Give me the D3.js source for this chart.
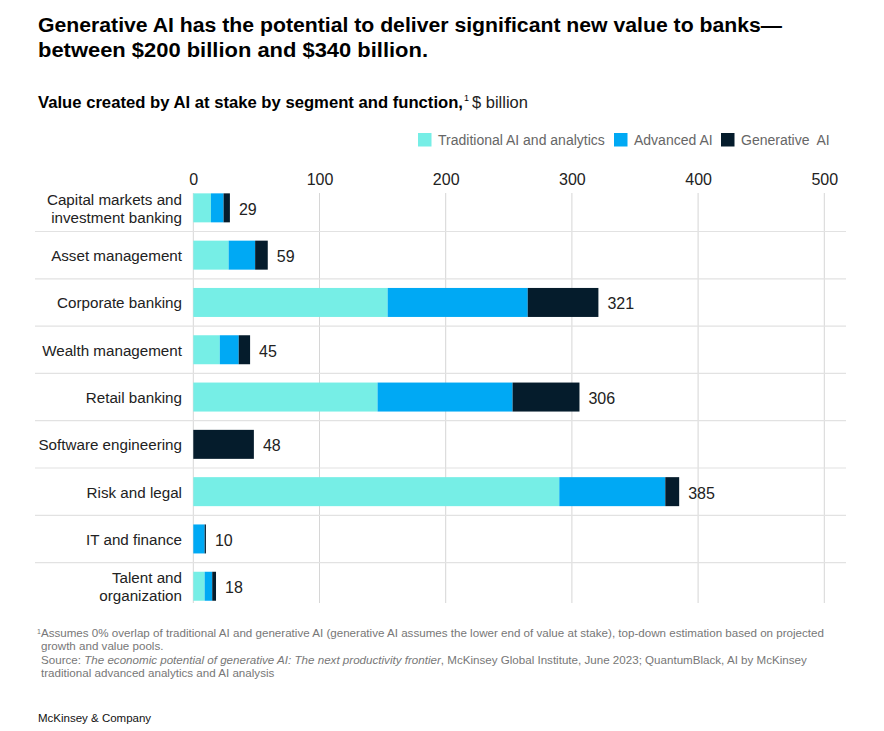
<!DOCTYPE html>
<html>
<head>
<meta charset="utf-8">
<script src="https://cdn.jsdelivr.net/npm/d3@7"></script>
<style>
  html, body { margin: 0; padding: 0; background: #fff; }
  svg { display: block; font-family: "Liberation Sans", Arial, Helvetica, sans-serif; }
</style>
</head>
<body>
<svg id="chart" width="884" height="731"></svg>
<script>
// ---- Data ----
const categories = [
  "Capital markets and|investment banking",
  "Asset management",
  "Corporate banking",
  "Wealth management",
  "Retail banking",
  "Software engineering",
  "Risk and legal",
  "IT and finance",
  "Talent and|organization"
];
const traditionalAI = [14, 28, 154, 21, 146, 0, 290, 0, 9];
const advancedAI    = [10, 21, 111, 15, 107, 0, 84, 9, 6];
const generativeAI  = [5, 10, 56, 9, 53, 48, 11, 1, 3];
const totals        = [29, 59, 321, 45, 306, 48, 385, 10, 18];
const seriesNames   = ["Traditional AI and analytics", "Advanced AI", "Generative  AI"];
const xTicks        = [0, 100, 200, 300, 400, 500];

const colors = ["#76EEE6", "#00A9F4", "#051C2C"];

const svg = d3.select("#chart");

// ---- Titles ----
function fitText(sel, target) {
  const n = sel.node();
  const w = n.getComputedTextLength();
  if (Math.abs(w - target) > 2) {
    sel.attr("textLength", target).attr("lengthAdjust", "spacingAndGlyphs");
  }
}
const t1 = svg.append("text").attr("x", 38).attr("y", 31.5)
  .attr("font-size", 20).attr("font-weight", 700).attr("fill", "#000")
  .text("Generative AI has the potential to deliver significant new value to banks\u2014");
fitText(t1, 744);
const t2 = svg.append("text").attr("x", 38).attr("y", 56.5)
  .attr("font-size", 20).attr("font-weight", 700).attr("fill", "#000")
  .text("between $200 billion and $340 billion.");
fitText(t2, 390);

const subB = svg.append("text").attr("x", 38).attr("y", 107.5).attr("font-size", 16.5)
  .attr("font-weight", 700).attr("fill", "#000")
  .text("Value created by AI at stake by segment and function,");
fitText(subB, 425);
svg.append("text").attr("x", 464).attr("y", 101).attr("font-size", 9).attr("fill", "#000").text("1");
svg.append("text").attr("x", 472).attr("y", 107.5).attr("font-size", 16.5).attr("fill", "#222")
  .text("$ billion");

// ---- Legend ----
const legendX = [418, 614, 721];
seriesNames.forEach((name, i) => {
  svg.append("rect").attr("x", legendX[i]).attr("y", 133).attr("width", 13.5).attr("height", 13.5)
    .attr("fill", colors[i]);
  svg.append("text").attr("x", legendX[i] + 20).attr("y", 145)
    .attr("font-size", 14).attr("fill", "#666")
    .style("white-space", "pre").attr("xml:space", "preserve")
    .text(name);
});

// ---- Scales ----
const x = d3.scaleLinear().domain([0, 500]).range([193.3, 824.3]);
const y = d3.scaleBand().domain(categories).range([184.2, 609.9])
  .paddingInner(0.387).paddingOuter(0.1935);

// ---- Grid ----
const grid = svg.append("g");
grid.selectAll("line.v").data(xTicks).enter().append("line")
  .attr("x1", d => x(d)).attr("x2", d => x(d))
  .attr("y1", 193).attr("y2", 603)
  .attr("stroke", "#d6d6d6").attr("stroke-width", 1);

const step = y.step();
grid.selectAll("line.h").data(categories.slice(1)).enter().append("line")
  .attr("x1", 35).attr("x2", 846)
  .attr("y1", d => y(d) - (step - y.bandwidth()) / 2)
  .attr("y2", d => y(d) - (step - y.bandwidth()) / 2)
  .attr("stroke", "#e2e2e2").attr("stroke-width", 1.2);

// ---- Axis (top) ----
const axis = d3.axisTop(x).tickValues(xTicks).tickSize(0).tickPadding(0);
const ag = svg.append("g").attr("transform", "translate(0,185)").call(axis);
ag.select(".domain").remove();
ag.selectAll("text").attr("font-size", 16).attr("fill", "#222")
  .attr("font-family", "'Liberation Sans', Arial, sans-serif").attr("dy", 0);

// ---- Stacked bars ----
const rows = categories.map((c, i) => ({
  cat: c, trad: traditionalAI[i], adv: advancedAI[i], gen: generativeAI[i], total: totals[i]
}));
const stack = d3.stack().keys(["trad", "adv", "gen"]);
const stacked = stack(rows);

svg.append("g").selectAll("g").data(stacked).enter().append("g")
  .attr("fill", (d, i) => colors[i])
  .selectAll("rect").data(d => d).enter().append("rect")
  .attr("x", d => x(d[0]))
  .attr("y", d => y(d.data.cat))
  .attr("width", d => Math.max(0, x(d[1]) - x(d[0])))
  .attr("height", y.bandwidth());

// ---- Value labels ----
svg.append("g").selectAll("text").data(rows).enter().append("text")
  .attr("x", d => x(d3.sum([d.trad, d.adv, d.gen])) + 9)
  .attr("y", d => y(d.cat) + y.bandwidth() / 2 + 7)
  .attr("font-size", 16).attr("fill", "#222")
  .text(d => d.total);

// ---- Category labels ----
const catG = svg.append("g");
categories.forEach(c => {
  const lines = c.split("|");
  const cy = y(c) + y.bandwidth() / 2;
  const t = catG.append("text").attr("text-anchor", "end").attr("font-size", 15.2).attr("fill", "#222");
  lines.forEach((ln, k) => {
    t.append("tspan").attr("x", 182)
      .attr("y", cy + 6 + (k - (lines.length - 1) / 2) * 18)
      .text(ln);
  });
});

// ---- Footnotes ----
const fn = svg.append("g").attr("font-size", 11.6).attr("fill", "#777");
const f1 = fn.append("text").attr("x", 37).attr("y", 637);
f1.append("tspan").attr("font-size", 7).attr("dy", -3).text("1");
f1.append("tspan").attr("dy", 3).text("Assumes 0% overlap of traditional AI and generative AI (generative AI assumes the lower end of value at stake), top-down estimation based on projected");
fn.append("text").attr("x", 41).attr("y", 650).text("growth and value pools.");
const f3 = fn.append("text").attr("x", 41).attr("y", 663.5);
f3.append("tspan").text("Source: ");
f3.append("tspan").attr("font-style", "italic").text("The economic potential of generative AI: The next productivity frontier");
f3.append("tspan").text(", McKinsey Global Institute, June 2023; QuantumBlack, AI by McKinsey");
fn.append("text").attr("x", 41).attr("y", 677).text("traditional advanced analytics and AI analysis");

svg.append("text").attr("x", 38).attr("y", 722).attr("font-size", 11.5).attr("fill", "#111")
  .text("McKinsey & Company");
</script>
</body>
</html>
